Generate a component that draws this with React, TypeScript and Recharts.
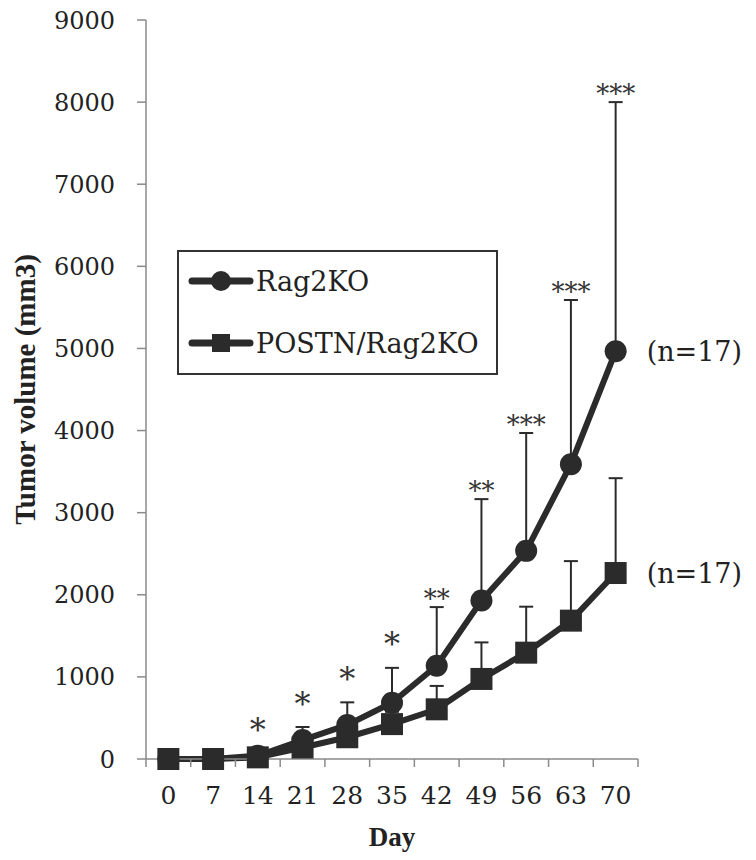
import { LineChart, Line, XAxis, YAxis, ErrorBar, LabelList, Legend } from "recharts"

const days = [0, 7, 14, 21, 28, 35, 42, 49, 56, 63, 70]
const ragMean = [0, 0, 40, 230, 415, 685, 1135, 1930, 2535, 3590, 4965]
const ragSd = [0, 0, 30, 160, 275, 425, 715, 1235, 1435, 2000, 3035]
const postnMean = [0, 0, 20, 140, 265, 425, 605, 975, 1295, 1685, 2265]
const postnSd = [0, 0, 10, 50, 100, 150, 285, 445, 560, 725, 1155]
const stars = ["", "", "*", "*", "*", "*", "**", "**", "***", "***", "***"]
const nLabels = ["", "", "", "", "", "", "", "", "", "", "(n=17)"]
const yTicks = [0, 1000, 2000, 3000, 4000, 5000, 6000, 7000, 8000, 9000]

const INK = "#2b2b2b"
const AXIS = "#8a8a8a"
const SERIF = "'DejaVu Serif', serif"
const BOLD_SERIF = "'Liberation Serif', serif"

// half-week band edges, so tick marks fall between the days
const edges = [...days.map((d) => d - 3.5), 73.5]
const xTicks = [...edges, ...days]

const data = days.map((day, i) => ({
  day,
  rag: ragMean[i],
  ragErr: [0, ragSd[i]],
  ragUpper: ragMean[i] + ragSd[i],
  postn: postnMean[i],
  postnErr: [0, postnSd[i]],
  stars: stars[i],
  n: nLabels[i],
}))

const XTick = (props: any) => {
  const { x, y, payload } = props
  const v = payload.value
  if (!Number.isInteger(v)) {
    return <line x1={x} x2={x} y1={y} y2={y + 8} stroke={AXIS} strokeWidth={1.5} />
  }
  return (
    <text x={x} y={y + 45} textAnchor="middle" fontFamily={SERIF} fontSize={25} fill="#222">
      {v}
    </text>
  )
}

const CircleDot = (p: any) => <circle key={`c-${p.index}`} cx={p.cx} cy={p.cy} r={11} fill={INK} />
const SquareDot = (p: any) => (
  <rect key={`s-${p.index}`} x={p.cx - 11} y={p.cy - 11} width={22} height={22} fill={INK} />
)

const pos = (p: any) => {
  const vb = p.viewBox || {}
  return { x: vb.x ?? p.x, y: vb.y ?? p.y }
}

const StarLabel = (p: any) => {
  if (!p.value) return null
  const { x, y } = pos(p)
  const single = String(p.value).length === 1
  const fs = single ? 32 : 26
  const lift = single ? 30 : 13
  return (
    <text x={x} y={y - lift + fs * 0.55} textAnchor="middle" fontFamily={SERIF} fontSize={fs} fill="#333">
      {p.value}
    </text>
  )
}

const NLabel = (p: any) => {
  if (!p.value) return null
  const { x, y } = pos(p)
  return (
    <text x={x + 31} y={y} dy="0.36em" fontFamily={SERIF} fontSize={27} fill="#222">
      {p.value}
    </text>
  )
}

const LegendBox = () => (
  <svg width={321} height={125}>
    <rect x={1} y={1} width={319} height={123} fill="#fff" stroke="#333" strokeWidth={2} />
    <line x1={15} x2={73} y1={31} y2={31} stroke={INK} strokeWidth={7} strokeLinecap="round" />
    <circle cx={44} cy={31} r={10} fill={INK} />
    <text x={79} y={31} dy="0.36em" fontFamily={SERIF} fontSize={27} fill="#222">Rag2KO</text>
    <line x1={15} x2={73} y1={93} y2={93} stroke={INK} strokeWidth={7} strokeLinecap="round" />
    <rect x={35} y={84} width={18} height={18} fill={INK} />
    <text x={79} y={93} dy="0.36em" fontFamily={SERIF} fontSize={27} fill="#222">POSTN/Rag2KO</text>
  </svg>
)

const YLabel = (p: any) => {
  const vb = p.viewBox
  const cy = vb.y + vb.height / 2
  return (
    <text
      x={25}
      y={cy}
      transform={`rotate(-90, 25, ${cy})`}
      textAnchor="middle"
      dy="0.35em"
      fontFamily={BOLD_SERIF}
      fontWeight="bold"
      fontSize={29}
      fill="#222"
    >
      Tumor volume (mm3)
    </text>
  )
}

export default function App() {
  return (
    <div style={{ position: "absolute", left: 0, top: 0, background: "#fff" }}>
      <LineChart width={756} height={860} data={data} margin={{ top: 20, right: 118, bottom: 0, left: 0 }}>
        <XAxis
          dataKey="day"
          type="number"
          domain={[-3.5, 73.5]}
          ticks={xTicks}
          interval={0}
          tick={<XTick />}
          tickLine={false}
          tickSize={0}
          tickMargin={0}
          axisLine={{ stroke: AXIS, strokeWidth: 1.5 }}
          height={101}
          label={{
            value: "Day",
            position: "insideBottom",
            offset: 14,
            style: { fontFamily: BOLD_SERIF, fontWeight: "bold", fontSize: 27, fill: "#222" },
          }}
        />
        <YAxis
          domain={[0, 9000]}
          ticks={yTicks}
          interval={0}
          width={146}
          tickSize={9}
          tickMargin={22}
          tick={{ fontFamily: SERIF, fontSize: 24, fill: "#222" }}
          tickLine={{ stroke: AXIS, strokeWidth: 1.5 }}
          axisLine={{ stroke: AXIS, strokeWidth: 1.5 }}
          label={<YLabel />}
        />
        <Legend
          layout="vertical"
          align="center"
          verticalAlign="middle"
          wrapperStyle={{ left: 177, top: 250, width: 321, height: 125 }}
          content={() => <LegendBox />}
        />
        <Line
          dataKey="ragUpper"
          stroke="none"
          dot={false}
          activeDot={false}
          legendType="none"
          isAnimationActive={false}
        >
          <LabelList dataKey="stars" content={<StarLabel />} />
        </Line>
        <Line
          name="Rag2KO"
          dataKey="rag"
          stroke={INK}
          strokeWidth={6}
          dot={CircleDot}
          activeDot={false}
          isAnimationActive={false}
        >
          <ErrorBar dataKey="ragErr" direction="y" width={7} stroke={INK} strokeWidth={2} />
          <LabelList dataKey="n" content={<NLabel />} />
        </Line>
        <Line
          name="POSTN/Rag2KO"
          dataKey="postn"
          stroke={INK}
          strokeWidth={6}
          dot={SquareDot}
          activeDot={false}
          isAnimationActive={false}
        >
          <ErrorBar dataKey="postnErr" direction="y" width={7} stroke={INK} strokeWidth={2} />
          <LabelList dataKey="n" content={<NLabel />} />
        </Line>
      </LineChart>
    </div>
  )
}
